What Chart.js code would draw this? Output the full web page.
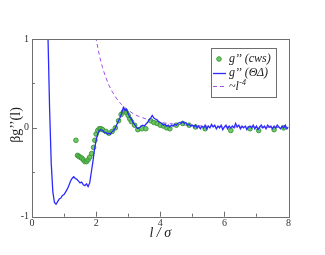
<!DOCTYPE html>
<html>
<head>
<meta charset="utf-8">
<script src="https://cdn.jsdelivr.net/npm/chart.js@4.4.1/dist/chart.umd.min.js"></script>
<style>
  html, body { margin: 0; padding: 0; background: #fff; }
  #wrap { width: 325px; height: 255px; }
</style>
</head>
<body>
<div id="wrap"><canvas id="c" width="325" height="255"></canvas></div>
<script>
// g'' (ΘΔ) — blue line, sampled every 0.05 starting at l = 0.45
const thetaStart = 0.45;
const thetaStep = 0.05;
const thetaY = [
  1.4, 1.0, 0.2, -0.4, -0.72, -0.84, -0.86, -0.83, -0.8, -0.79,
  -0.76, -0.75, -0.72, -0.69, -0.65, -0.6, -0.57, -0.55, -0.57, -0.58,
  -0.6, -0.62, -0.61, -0.64, -0.65, -0.63, -0.66, -0.62, -0.5, -0.38,
  -0.24, -0.14, -0.07, -0.03, -0.02, -0.03, -0.05, -0.05, -0.07, -0.06,
  -0.07, -0.04, -0.03, 0.0, 0.04, 0.08, 0.12, 0.17, 0.23, 0.2,
  0.21, 0.16, 0.12, 0.1, 0.06, 0.04, 0.01, -0.01, 0.0, 0.02,
  0.03, 0.02, 0.04, 0.06, 0.09, 0.11, 0.14, 0.11, 0.1, 0.09,
  0.07, 0.06, 0.05, 0.03, 0.04, 0.02, 0.03, 0.01, 0.03, 0.02,
  0.04, 0.03, 0.05, 0.06, 0.05, 0.07, 0.05, 0.06, 0.03, 0.04,
  0.02, 0.03, 0.01, 0.03, 0.0, 0.02, -0.01, 0.02, 0.0, 0.03,
  -0.01, 0.02, 0.0, 0.04, 0.01, 0.03, -0.01, 0.02, 0.0, 0.03,
  -0.02, 0.01, 0.03, -0.01, 0.02, 0.0, 0.02, 0.0, 0.05, 0.01,
  0.03, -0.01, 0.02, 0.0, 0.02, -0.02, 0.01, 0.02, 0.0, 0.03,
  -0.01, 0.02, -0.02, 0.01, 0.03, 0.0, 0.02, -0.01, 0.03, 0.01,
  0.02, -0.01, 0.02, 0.0, 0.03, 0.01, -0.01, 0.02, 0.0, 0.03,
  -0.01, 0.01
];

// g'' (cws) — green circles
const cwsL = [1.37, 1.42, 1.46, 1.5, 1.55, 1.6, 1.65, 1.7, 1.75, 1.8,
  1.86, 1.92, 1.96, 2.0, 2.05, 2.1, 2.15, 2.2, 2.3, 2.4, 2.5, 2.6, 2.7,
  2.78, 2.85, 2.9, 2.95, 3.0, 3.05, 3.1, 3.2, 3.3, 3.42, 3.55, 3.7, 3.8,
  3.9, 4.0, 4.1, 4.2, 4.3, 4.5, 4.7, 4.9, 5.1, 5.4, 6.2, 6.8, 7.07, 7.55, 7.85];
const cwsY = [-0.14, -0.31, -0.32, -0.33, -0.34, -0.36, -0.38, -0.38, -0.36, -0.33,
  -0.29, -0.22, -0.14, -0.07, -0.03, -0.01, -0.01, -0.02, -0.04, -0.06, -0.04, 0.0, 0.08,
  0.15, 0.18, 0.19, 0.17, 0.14, 0.1, 0.07, 0.03, -0.02, -0.01, -0.01, 0.08, 0.06,
  0.05, 0.03, 0.02, 0.0, -0.01, 0.03, 0.05, 0.03, 0.01, -0.01, -0.03, -0.01, -0.03, -0.02, 0.0];

// ~l^-4 — purple dashed guide
const powL = [1.95, 2.0, 2.1, 2.2, 2.3, 2.4, 2.5, 2.6, 2.8, 3.0, 3.2, 3.4, 3.6, 3.8, 4.0, 4.5, 5.0, 5.5, 6.0, 7.0, 8.0];
const powY = [1.1, 1.0, 0.82, 0.68, 0.57, 0.48, 0.41, 0.35, 0.26, 0.2, 0.15, 0.12, 0.095, 0.077, 0.062, 0.04, 0.026, 0.018, 0.012, 0.007, 0.004];

const xTicks = [0, 2, 4, 6, 8];
const yTicks = [-1, 0, 1];

const thetaPts = thetaY.map((y, i) => ({ x: +(thetaStart + i * thetaStep).toFixed(2), y: y }));
const cwsPts = cwsL.map((x, i) => ({ x: x, y: cwsY[i] }));
const powPts = powL.map((x, i) => ({ x: x, y: powY[i] }));

const BLUE = '#2a2aff';
const GREEN_FILL = 'rgba(88,190,80,0.85)';
const GREEN_EDGE = '#3f9a3a';
const PURPLE = '#a250e6';
const FRAME = '#6e6e6e';
const SERIF = '"Liberation Serif", "DejaVu Serif", serif';

// frame, inward ticks, axis titles and legend
const decor = {
  id: 'decor',
  afterDraw(chart) {
    const ctx = chart.ctx;
    const a = chart.chartArea;
    const xs = chart.scales.x, ys = chart.scales.y;
    ctx.save();
    ctx.strokeStyle = FRAME;
    ctx.lineWidth = 1;
    ctx.strokeRect(Math.round(a.left) + 0.5, Math.round(a.top) + 0.5,
      Math.round(a.right - a.left), Math.round(a.bottom - a.top));
    ctx.beginPath();
    for (let v = 0; v <= 8; v++) {
      const px = Math.round(xs.getPixelForValue(v)) + 0.5;
      const len = v % 2 === 0 ? 5 : 3;
      ctx.moveTo(px, a.bottom);
      ctx.lineTo(px, a.bottom - len);
    }
    for (let v = -1; v <= 1.001; v += 0.5) {
      const py = Math.round(ys.getPixelForValue(v)) + 0.5;
      const len = Math.abs(v % 1) < 0.01 ? 5 : 3;
      ctx.moveTo(a.left, py);
      ctx.lineTo(a.left + len, py);
    }
    ctx.stroke();

    // axis titles
    ctx.fillStyle = '#222';
    ctx.textAlign = 'center';
    ctx.textBaseline = 'middle';
    ctx.font = 'italic 14px ' + SERIF;
    ctx.fillText('l / σ', (a.left + a.right) / 2, 233);
    ctx.save();
    ctx.translate(16, 125);
    ctx.rotate(-Math.PI / 2);
    ctx.font = '14px ' + SERIF;
    ctx.fillText('βg\u2019\u2019(l)', 0, 0);
    ctx.restore();

    // legend
    const bx = 211, by = 48, bw = 65, bh = 49;
    ctx.fillStyle = '#fff';
    ctx.fillRect(bx, by, bw, bh);
    ctx.strokeStyle = FRAME;
    ctx.strokeRect(bx + 0.5, by + 0.5, bw, bh);
    const rows = [59, 73, 86];
    ctx.beginPath();
    ctx.arc(219, rows[0], 2.3, 0, Math.PI * 2);
    ctx.fillStyle = GREEN_FILL;
    ctx.fill();
    ctx.strokeStyle = GREEN_EDGE;
    ctx.stroke();
    ctx.beginPath();
    ctx.strokeStyle = BLUE;
    ctx.lineWidth = 1.3;
    ctx.moveTo(213, rows[1] + 0.5);
    ctx.lineTo(226, rows[1] + 0.5);
    ctx.stroke();
    ctx.beginPath();
    ctx.lineWidth = 1;
    ctx.strokeStyle = PURPLE;
    ctx.setLineDash([4, 3]);
    ctx.moveTo(213, rows[2] + 0.5);
    ctx.lineTo(226, rows[2] + 0.5);
    ctx.stroke();
    ctx.setLineDash([]);
    ctx.fillStyle = '#222';
    ctx.textAlign = 'left';
    ctx.font = 'italic 12px ' + SERIF;
    ctx.fillText('g\u2019\u2019 (cws)', 229, rows[0]);
    ctx.fillText('g\u2019\u2019 (ΘΔ)', 229, rows[1]);
    ctx.fillText('~l', 229, rows[2] + 1);
    const w = ctx.measureText('~l').width;
    ctx.font = 'italic 8px ' + SERIF;
    ctx.fillText('-4', 229 + w + 0.5, rows[2] - 3);
    ctx.restore();
  }
};

new Chart(document.getElementById('c'), {
  type: 'line',
  data: {
    datasets: [
      {
        label: 'g\u2019\u2019 (ΘΔ)',
        data: thetaPts,
        borderColor: BLUE,
        borderWidth: 1.3,
        pointRadius: 0,
        tension: 0,
        order: 1
      },
      {
        label: 'g\u2019\u2019 (cws)',
        data: cwsPts,
        showLine: false,
        pointRadius: 2.3,
        pointBackgroundColor: GREEN_FILL,
        pointBorderColor: GREEN_EDGE,
        pointBorderWidth: 1,
        order: 2
      },
      {
        label: '~l^-4',
        data: powPts,
        borderColor: PURPLE,
        borderWidth: 1,
        borderDash: [4, 3],
        pointRadius: 0,
        cubicInterpolationMode: 'monotone',
        order: 3
      }
    ]
  },
  options: {
    responsive: false,
    animation: false,
    events: [],
    layout: { padding: { left: 0, top: 39, right: 36.5, bottom: 8.3 } },
    plugins: { legend: { display: false }, tooltip: { enabled: false } },
    scales: {
      x: {
        type: 'linear',
        min: 0, max: 8,
        afterBuildTicks: s => { s.ticks = xTicks.map(v => ({ value: v })); },
        afterFit: s => { s.height = 30; },
        grid: { display: false, drawTicks: false, tickLength: 0 },
        border: { display: false },
        ticks: { color: '#333', font: { family: SERIF, size: 10 }, padding: 1, maxRotation: 0 }
      },
      y: {
        min: -1, max: 1,
        afterBuildTicks: s => { s.ticks = yTicks.map(v => ({ value: v })); },
        afterFit: s => { s.width = 32; },
        grid: { display: false, drawTicks: false, tickLength: 0 },
        border: { display: false },
        ticks: { color: '#333', font: { family: SERIF, size: 10 }, padding: 3 }
      }
    }
  },
  plugins: [decor]
});
</script>
</body>
</html>
